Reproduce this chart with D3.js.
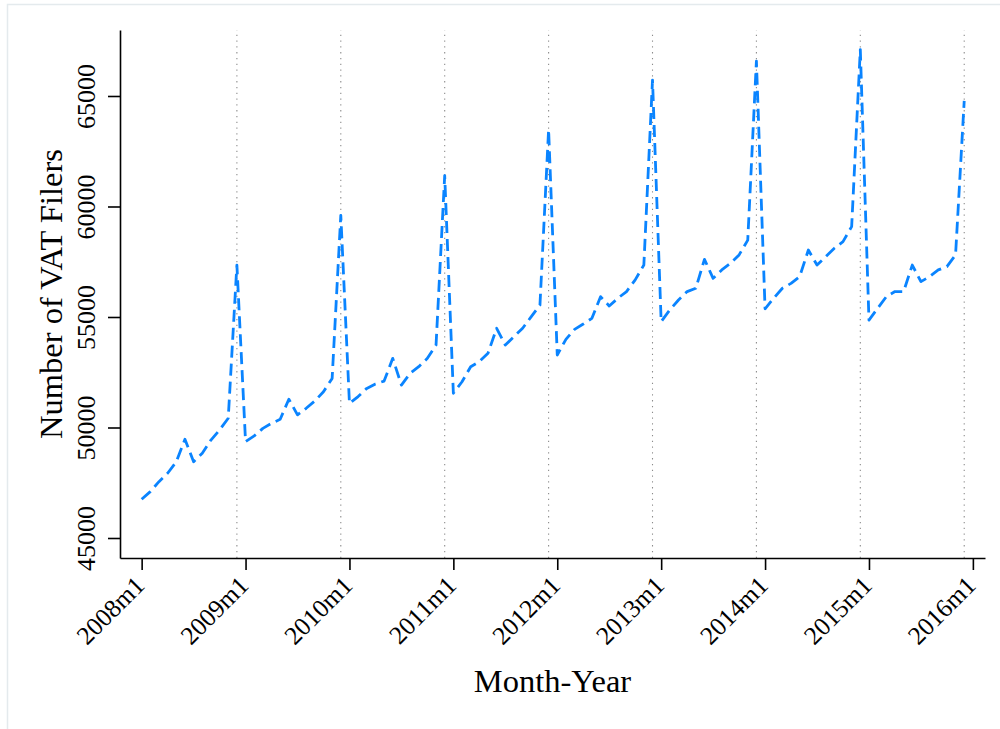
<!DOCTYPE html>
<html>
<head>
<meta charset="utf-8">
<script src="https://cdn.jsdelivr.net/npm/d3@7"></script>
<style>
  body { margin: 0; background: #fff; }
  svg { display: block; }
</style>
</head>
<body>
<svg id="chart" width="1000" height="729"></svg>
<script>
// ---- Data (monthly number of VAT filers, Jan..Dec) ----
const years = [2008, 2009, 2010, 2011, 2012, 2013, 2014, 2015];
const filers2008 = [46750, 47100, 47550, 47930, 48450, 49470, 48450, 48830, 49430, 49890, 50420, 57350];
const filers2009 = [49360, 49620, 49960, 50190, 50370, 51280, 50570, 50870, 51200, 51620, 52220, 59600];
const filers2010 = [51090, 51400, 51770, 51970, 52100, 53130, 51920, 52450, 52750, 53130, 53730, 61400];
const filers2011 = [51550, 52070, 52750, 52980, 53360, 54490, 53730, 54110, 54490, 55020, 55540, 63480];
const filers2012 = [53280, 53990, 54440, 54680, 54940, 55920, 55500, 55850, 56150, 56680, 57350, 65720];
const filers2013 = [54790, 55320, 55770, 56150, 56300, 57610, 56750, 57130, 57430, 57810, 58480, 66580];
const filers2014 = [55370, 55850, 56300, 56520, 56830, 58030, 57350, 57730, 58110, 58410, 59090, 67100];
const filers2015 = [54860, 55390, 55920, 56150, 56150, 57350, 56600, 56830, 57130, 57280, 57810, 64780];
const xTickLabels = ["2008m1", "2009m1", "2010m1", "2011m1", "2012m1", "2013m1", "2014m1", "2015m1", "2016m1"];
const yTickValues = [45000, 50000, 55000, 60000, 65000];
const yTitle = "Number of VAT Filers";
const xTitle = "Month-Year";

const FONT = '"Liberation Serif", "Times New Roman", serif';

// ---- Build series ----
const allYears = [filers2008, filers2009, filers2010, filers2011, filers2012, filers2013, filers2014, filers2015];
const series = [];
allYears.forEach((arr, yi) => arr.forEach((v, m) => series.push({ t: yi * 12 + m, v: v })));
const xTickValues = xTickLabels.map((d, i) => i * 12);
const decemberLines = years.map((y, i) => i * 12 + 11);

const svg = d3.select("#chart");

// light frame
svg.append("rect")
  .attr("x", 7.5).attr("y", 4.5).attr("width", 1000).attr("height", 740)
  .attr("fill", "#fff").attr("stroke", "#e4eaed").attr("stroke-width", 1.5);

const x = d3.scaleLinear().domain([-2.5, 97.4]).range([120, 985]);
const y = d3.scaleLinear().domain([44095, 67986]).range([558, 30]);

// December reference lines
svg.append("g").selectAll("line")
  .data(decemberLines).join("line")
  .attr("x1", d => x(d)).attr("x2", d => x(d))
  .attr("y1", y.range()[0]).attr("y2", y.range()[1])
  .attr("stroke", "#8c8c8c").attr("stroke-width", 1.1)
  .attr("stroke-dasharray", "1.3,4.5");

// series line
const line = d3.line().x(d => x(d.t)).y(d => y(d.v));
svg.append("path")
  .datum(series)
  .attr("d", line)
  .attr("fill", "none")
  .attr("stroke", "#0a84ff")
  .attr("stroke-width", 2.8)
  .attr("stroke-dasharray", "12,6")
  .attr("stroke-linejoin", "round");

// Y axis
const gy = svg.append("g").attr("transform", "translate(120,0)")
  .call(d3.axisLeft(y).tickValues(yTickValues).tickSize(12).tickSizeOuter(0).tickFormat(d3.format("d")));
gy.attr("font-family", null).attr("font-size", null);
gy.select(".domain").attr("stroke", "#000").attr("stroke-width", 1.6);
gy.selectAll(".tick line").attr("stroke", "#000").attr("stroke-width", 1.6);
gy.selectAll(".tick text")
  .attr("x", null).attr("dy", null)
  .attr("text-anchor", "middle")
  .attr("transform", "translate(-25,0) rotate(-90)")
  .attr("fill", "#000")
  .style("font-family", FONT)
  .style("font-size", "26px");

// X axis
const gx = svg.append("g").attr("transform", "translate(0,558)")
  .call(d3.axisBottom(x).tickValues(xTickValues).tickSize(12).tickSizeOuter(0)
    .tickFormat((d, i) => xTickLabels[i]));
gx.attr("font-family", null).attr("font-size", null);
gx.select(".domain").attr("stroke", "#000").attr("stroke-width", 1.6);
gx.selectAll(".tick line").attr("stroke", "#000").attr("stroke-width", 1.6);
gx.selectAll(".tick text")
  .attr("y", null).attr("dy", null)
  .attr("text-anchor", "end")
  .attr("transform", "translate(4,29) rotate(-45)")
  .attr("fill", "#000")
  .style("font-family", FONT)
  .style("font-size", "25.5px");

// titles
svg.append("text")
  .attr("transform", "translate(62,294) rotate(-90)")
  .attr("text-anchor", "middle")
  .attr("fill", "#000")
  .style("font-family", FONT)
  .style("font-size", "32.5px")
  .text(yTitle);
svg.append("text")
  .attr("x", 552.5).attr("y", 692)
  .attr("text-anchor", "middle")
  .attr("fill", "#000")
  .style("font-family", FONT)
  .style("font-size", "32.5px")
  .text(xTitle);
</script>
</body>
</html>
